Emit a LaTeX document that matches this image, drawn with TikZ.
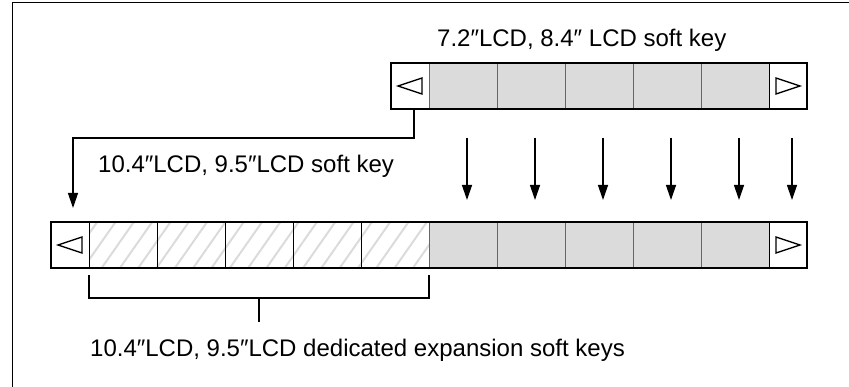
\documentclass[tikz,border=0pt]{standalone}
\usepackage{fontspec}
\setmainfont{Liberation Sans}
\usetikzlibrary{arrows.meta,patterns.meta}
\begin{document}
\begin{tikzpicture}[x=1pt, y=-1pt,
    every node/.style={font=\fontsize{24}{28}\selectfont},
    arrowcell/.style={draw, fill=white, minimum width=38pt, minimum height=46pt,
      inner sep=0pt, outer sep=0pt},
    softkey/.style={draw=black!60, fill=black!14, minimum width=68pt, minimum height=46pt,
      inner sep=0pt, outer sep=0pt},
    expkey/.style={draw, minimum width=68pt, minimum height=46pt, inner sep=0pt, outer sep=0pt,
      pattern={Lines[angle=55, distance=15pt, line width=2pt]}, pattern color=black!14},
    bar/.style={line width=1.6pt},
    tri/.style={line width=1.3pt},
    arr/.style={line width=1.3pt, -{Triangle[length=15pt, width=10pt]}},
    lbl/.style={anchor=base west, inner sep=0pt},
  ]
  \useasboundingbox (0,0) rectangle (849,387);
  \draw[bar] (849,2.5) -- (12.5,2.5) -- (12.5,387);

  % 7.2/8.4 bar
  \node[arrowcell] (tl) at (410,86) {};
  \foreach \i in {1,...,5} \node[softkey] (t\i) at (395+68*\i,86) {};
  \node[arrowcell] (tr) at (788,86) {};

  % 10.4/9.5 bar
  \node[arrowcell] (bl) at (70,245) {};
  \foreach \i in {1,...,5} \node[expkey] (h\i) at (55+68*\i,245) {};
  \foreach \i in {1,...,5} \node[softkey] (g\i) at (395+68*\i,245) {};
  \node[arrowcell] (br) at (788,245) {};

  \draw[bar] (tl.north west) rectangle (tr.south east);
  \draw[bar] (bl.north west) rectangle (br.south east);

  \foreach \c in {tl, bl} \draw[tri] ([xshift=-12pt]\c.center) -- ([shift={(12pt,8pt)}]\c.center)
    -- ([shift={(12pt,-8pt)}]\c.center) -- cycle;
  \foreach \c in {tr, br} \draw[tri] ([xshift=12pt]\c.center) -- ([shift={(-12pt,8pt)}]\c.center)
    -- ([shift={(-12pt,-8pt)}]\c.center) -- cycle;

  \node[lbl] (top) at (437,47) {7.2″LCD, 8.4″ LCD soft key};
  \node[lbl] (mid) at (98,173) {10.4″LCD, 9.5″LCD soft key};
  \node[lbl] (bot) at (90,357) {10.4″LCD, 9.5″LCD dedicated expansion soft keys};

  \foreach \s/\d in {t1/g1, t2/g2, t3/g3, t4/g4, t5/g5, tr/br}
    \draw[arr] ([shift={(4pt,-29pt)}]\s.south) -- ([shift={(4pt,22pt)}]\d.north);
  \draw[arr] ([xshift=4pt]tl.south) -- ++(0,29) -| ([shift={(3pt,14pt)}]bl.north);

  % bracket
  \coordinate (brc) at (259,298);
  \draw[tri] ([yshift=-7pt]h1.south west) -- ++(0,23) -| ([yshift=-7pt]h5.south east);
  \draw[tri] (brc) -- ++(0,24);
\end{tikzpicture}
\end{document}
